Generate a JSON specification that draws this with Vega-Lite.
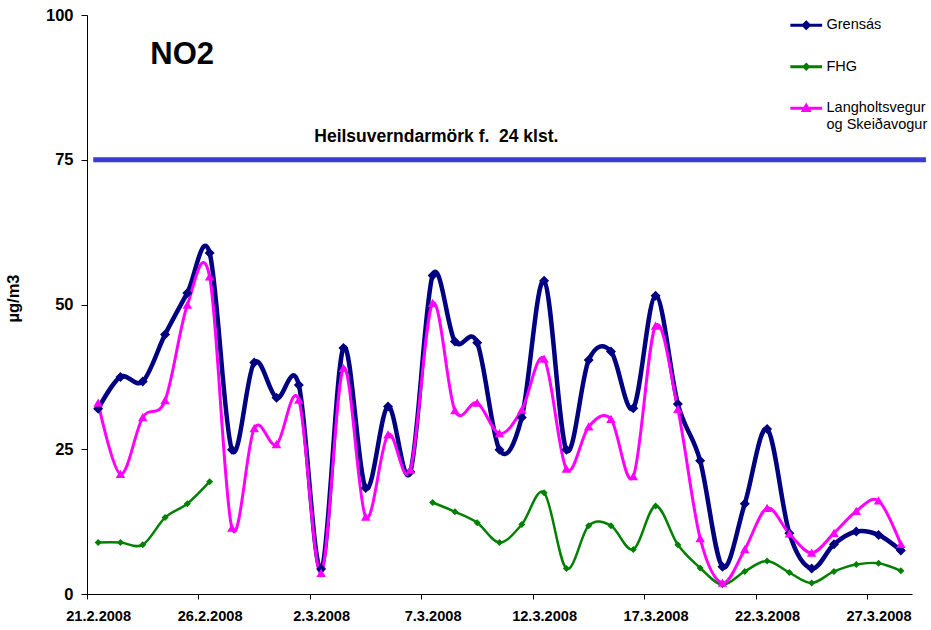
{
  "$schema": "https://vega.github.io/schema/vega-lite/v6.json",
  "width": 825,
  "height": 579,
  "autosize": {"type": "none"},
  "padding": {"left": 87, "top": 15, "right": 19, "bottom": 36},
  "background": "white",
  "config": {
    "view": {"stroke": null},
    "font": "Liberation Sans",
    "legend": {
      "labelFont": "Liberation Sans",
      "labelFontSize": 14.5,
      "labelColor": "black",
      "symbolSize": 36,
      "symbolStrokeWidth": 3,
      "rowPadding": 23.5,
      "labelOffset": 13,
      "padding": 0,
      "labelLimit": 300
    }
  },
  "datasets": {
    "no2": [
      {"date": "2008-02-21", "Grensás": 32.0, "FHG": 8.9, "Langholtsvegur og Skeiðavogur": 33.0},
      {"date": "2008-02-22", "Grensás": 37.5, "FHG": 8.9, "Langholtsvegur og Skeiðavogur": 20.7},
      {"date": "2008-02-23", "Grensás": 36.7, "FHG": 8.5, "Langholtsvegur og Skeiðavogur": 30.5},
      {"date": "2008-02-24", "Grensás": 44.8, "FHG": 13.2, "Langholtsvegur og Skeiðavogur": 33.4},
      {"date": "2008-02-25", "Grensás": 52.0, "FHG": 15.6, "Langholtsvegur og Skeiðavogur": 49.9},
      {"date": "2008-02-26", "Grensás": 58.9, "FHG": 19.4, "Langholtsvegur og Skeiðavogur": 54.8},
      {"date": "2008-02-27", "Grensás": 24.9, "FHG": null, "Langholtsvegur og Skeiðavogur": 11.4},
      {"date": "2008-02-28", "Grensás": 40.0, "FHG": null, "Langholtsvegur og Skeiðavogur": 28.6},
      {"date": "2008-02-29", "Grensás": 33.9, "FHG": null, "Langholtsvegur og Skeiðavogur": 25.8},
      {"date": "2008-03-01", "Grensás": 36.1, "FHG": null, "Langholtsvegur og Skeiðavogur": 33.5},
      {"date": "2008-03-02", "Grensás": 4.3, "FHG": null, "Langholtsvegur og Skeiðavogur": 3.6},
      {"date": "2008-03-03", "Grensás": 42.5, "FHG": null, "Langholtsvegur og Skeiðavogur": 39.0},
      {"date": "2008-03-04", "Grensás": 18.3, "FHG": null, "Langholtsvegur og Skeiðavogur": 13.3},
      {"date": "2008-03-05", "Grensás": 32.4, "FHG": null, "Langholtsvegur og Skeiðavogur": 27.5},
      {"date": "2008-03-06", "Grensás": 21.1, "FHG": null, "Langholtsvegur og Skeiðavogur": 21.4},
      {"date": "2008-03-07", "Grensás": 55.0, "FHG": 15.8, "Langholtsvegur og Skeiðavogur": 50.2},
      {"date": "2008-03-08", "Grensás": 43.6, "FHG": 14.2, "Langholtsvegur og Skeiðavogur": 31.7},
      {"date": "2008-03-09", "Grensás": 43.4, "FHG": 12.3, "Langholtsvegur og Skeiðavogur": 33.0},
      {"date": "2008-03-10", "Grensás": 24.9, "FHG": 8.9, "Langholtsvegur og Skeiðavogur": 27.7},
      {"date": "2008-03-11", "Grensás": 30.5, "FHG": 12.0, "Langholtsvegur og Skeiðavogur": 31.8},
      {"date": "2008-03-12", "Grensás": 54.1, "FHG": 17.5, "Langholtsvegur og Skeiðavogur": 40.6},
      {"date": "2008-03-13", "Grensás": 24.9, "FHG": 4.4, "Langholtsvegur og Skeiðavogur": 21.6},
      {"date": "2008-03-14", "Grensás": 40.4, "FHG": 11.8, "Langholtsvegur og Skeiðavogur": 28.9},
      {"date": "2008-03-15", "Grensás": 41.9, "FHG": 11.8, "Langholtsvegur og Skeiðavogur": 30.2},
      {"date": "2008-03-16", "Grensás": 32.1, "FHG": 7.7, "Langholtsvegur og Skeiðavogur": 20.3},
      {"date": "2008-03-17", "Grensás": 51.5, "FHG": 15.2, "Langholtsvegur og Skeiðavogur": 46.3},
      {"date": "2008-03-18", "Grensás": 32.8, "FHG": 8.5, "Langholtsvegur og Skeiðavogur": 31.9},
      {"date": "2008-03-19", "Grensás": 23.0, "FHG": 4.5, "Langholtsvegur og Skeiðavogur": 9.6},
      {"date": "2008-03-20", "Grensás": 4.7, "FHG": 1.6, "Langholtsvegur og Skeiðavogur": 1.9},
      {"date": "2008-03-21", "Grensás": 15.6, "FHG": 3.9, "Langholtsvegur og Skeiðavogur": 7.7},
      {"date": "2008-03-22", "Grensás": 28.5, "FHG": 5.7, "Langholtsvegur og Skeiðavogur": 14.8},
      {"date": "2008-03-23", "Grensás": 10.5, "FHG": 3.7, "Langholtsvegur og Skeiðavogur": 10.4},
      {"date": "2008-03-24", "Grensás": 4.4, "FHG": 1.9, "Langholtsvegur og Skeiðavogur": 7.1},
      {"date": "2008-03-25", "Grensás": 8.6, "FHG": 3.9, "Langholtsvegur og Skeiðavogur": 10.5},
      {"date": "2008-03-26", "Grensás": 10.8, "FHG": 5.1, "Langholtsvegur og Skeiðavogur": 14.3},
      {"date": "2008-03-27", "Grensás": 10.2, "FHG": 5.3, "Langholtsvegur og Skeiðavogur": 16.1},
      {"date": "2008-03-28", "Grensás": 7.5, "FHG": 4.0, "Langholtsvegur og Skeiðavogur": 8.6}
    ],
    "limit": [
      {"date": "2008-02-20T18:45:00Z", "end": "2008-03-29T03:00:00Z", "value": 75}
    ],
    "title": [
      {"date": "2008-02-24T18:30:00Z", "value": 93.1, "label": "NO2"}
    ],
    "note": [
      {"date": "2008-03-07T04:00:00Z", "value": 78.9, "label": "Heilsuverndarmörk f.\u00a0 24 klst."}
    ]
  },
  "encoding": {
    "x": {
      "field": "date",
      "type": "temporal",
      "title": null,
      "scale": {
        "type": "utc",
        "domain": [
          {"year": 2008, "month": 2, "date": 20, "hours": 12, "utc": true},
          {"year": 2008, "month": 3, "date": 28, "hours": 12, "utc": true}
        ]
      },
      "axis": {
        "values": [
          {"year": 2008, "month": 2, "date": 21, "utc": true},
          {"year": 2008, "month": 2, "date": 26, "utc": true},
          {"year": 2008, "month": 3, "date": 2, "utc": true},
          {"year": 2008, "month": 3, "date": 7, "utc": true},
          {"year": 2008, "month": 3, "date": 12, "utc": true},
          {"year": 2008, "month": 3, "date": 17, "utc": true},
          {"year": 2008, "month": 3, "date": 22, "utc": true},
          {"year": 2008, "month": 3, "date": 27, "utc": true}
        ],
        "labelExpr": "utcFormat(datum.value, '%-d.%-m.%Y')",
        "tickOffset": -11.15,
        "labelOffset": 11.15,
        "tickSize": 5,
        "tickColor": "black",
        "domainColor": "black",
        "grid": false,
        "labelFontSize": 14.6,
        "labelFontWeight": "bold",
        "labelColor": "black",
        "labelPadding": 9,
        "labelFlush": false,
        "labelOverlap": false
      }
    },
    "y": {
      "field": "value",
      "type": "quantitative",
      "title": "µg/m3",
      "scale": {"domain": [0, 100], "nice": false},
      "axis": {
        "values": [0, 25, 50, 75, 100],
        "tickSize": 6,
        "tickColor": "black",
        "domainColor": "black",
        "grid": false,
        "labelFontSize": 16.5,
        "labelFontWeight": "bold",
        "labelColor": "black",
        "labelPadding": 8,
        "titleFontSize": 16.5,
        "titleFontWeight": "bold",
        "titleColor": "black",
        "titleAngle": -90,
        "titleAlign": "center",
        "titleBaseline": "alphabetic",
        "titleX": -69,
        "titleY": 283
      }
    }
  },
  "layer": [
    {
      "data": {"name": "limit"},
      "mark": {"type": "rule", "color": "#3b3bd0", "strokeWidth": 5},
      "encoding": {"x2": {"field": "end"}}
    },
    {
      "data": {"name": "title"},
      "mark": {"type": "text", "fontSize": 31, "fontWeight": "bold", "align": "center", "baseline": "middle", "color": "black"},
      "encoding": {"text": {"field": "label"}}
    },
    {
      "data": {"name": "note"},
      "mark": {"type": "text", "fontSize": 17.5, "fontWeight": "bold", "align": "center", "baseline": "middle", "color": "black"},
      "encoding": {"text": {"field": "label"}}
    },
    {
      "data": {"name": "no2"},
      "transform": [
        {"fold": ["Grensás", "FHG", "Langholtsvegur og Skeiðavogur"], "as": ["station", "value"]}
      ],
      "layer": [
        {
          "transform": [{"filter": "datum.station == 'Grensás'"}],
          "mark": {"type": "line", "interpolate": "cardinal", "strokeWidth": 4.5},
          "encoding": {
            "stroke": {
              "field": "station", "type": "nominal",
              "scale": {"domain": ["Grensás", "FHG", "Langholtsvegur og Skeiðavogur"], "range": ["#000080", "#008000", "#ff00ff"]},
              "legend": {"title": null, "orient": "none", "legendX": 712, "legendY": 3, "labelExpr": "datum.label == 'Langholtsvegur og Skeiðavogur' ? ['Langholtsvegur', 'og Skeiðavogur'] : datum.label"}
            }
          }
        },
        {
          "transform": [{"filter": "datum.station == 'FHG'"}],
          "mark": {"type": "line", "interpolate": "cardinal", "strokeWidth": 2.5},
          "encoding": {
            "stroke": {
              "field": "station", "type": "nominal",
              "scale": {"domain": ["Grensás", "FHG", "Langholtsvegur og Skeiðavogur"], "range": ["#000080", "#008000", "#ff00ff"]},
              "legend": {"title": null, "orient": "none", "legendX": 712, "legendY": 3, "labelExpr": "datum.label == 'Langholtsvegur og Skeiðavogur' ? ['Langholtsvegur', 'og Skeiðavogur'] : datum.label"}
            }
          }
        },
        {
          "transform": [{"filter": "datum.station == 'Langholtsvegur og Skeiðavogur'"}],
          "mark": {"type": "line", "interpolate": "cardinal", "strokeWidth": 3},
          "encoding": {
            "stroke": {
              "field": "station", "type": "nominal",
              "scale": {"domain": ["Grensás", "FHG", "Langholtsvegur og Skeiðavogur"], "range": ["#000080", "#008000", "#ff00ff"]},
              "legend": {"title": null, "orient": "none", "legendX": 712, "legendY": 3, "labelExpr": "datum.label == 'Langholtsvegur og Skeiðavogur' ? ['Langholtsvegur', 'og Skeiðavogur'] : datum.label"}
            }
          }
        },
        {
          "mark": {"type": "point", "filled": true, "opacity": 1, "size": 100},
          "encoding": {
            "fill": {
              "field": "station", "type": "nominal",
              "scale": {"domain": ["Grensás", "FHG", "Langholtsvegur og Skeiðavogur"], "range": ["#000080", "#008000", "#ff00ff"]},
              "legend": {"title": null, "orient": "none", "legendX": 712, "legendY": 3, "labelExpr": "datum.label == 'Langholtsvegur og Skeiðavogur' ? ['Langholtsvegur', 'og Skeiðavogur'] : datum.label"}
            },
            "shape": {
              "field": "station", "type": "nominal",
              "scale": {"domain": ["Grensás", "FHG", "Langholtsvegur og Skeiðavogur"], "range": ["M-5.3,0H5.3M0,-1L1,0L0,1L-1,0Z", "M-5.3,0H5.3M0,-0.7L0.7,0L0,0.7L-0.7,0Z", "M-5.3,0H5.3M0,-0.9L0.95,0.75L-0.95,0.75Z"]},
              "legend": {"title": null, "orient": "none", "legendX": 712, "legendY": 3, "labelExpr": "datum.label == 'Langholtsvegur og Skeiðavogur' ? ['Langholtsvegur', 'og Skeiðavogur'] : datum.label"}
            }
          }
        }
      ]
    }
  ]
}
